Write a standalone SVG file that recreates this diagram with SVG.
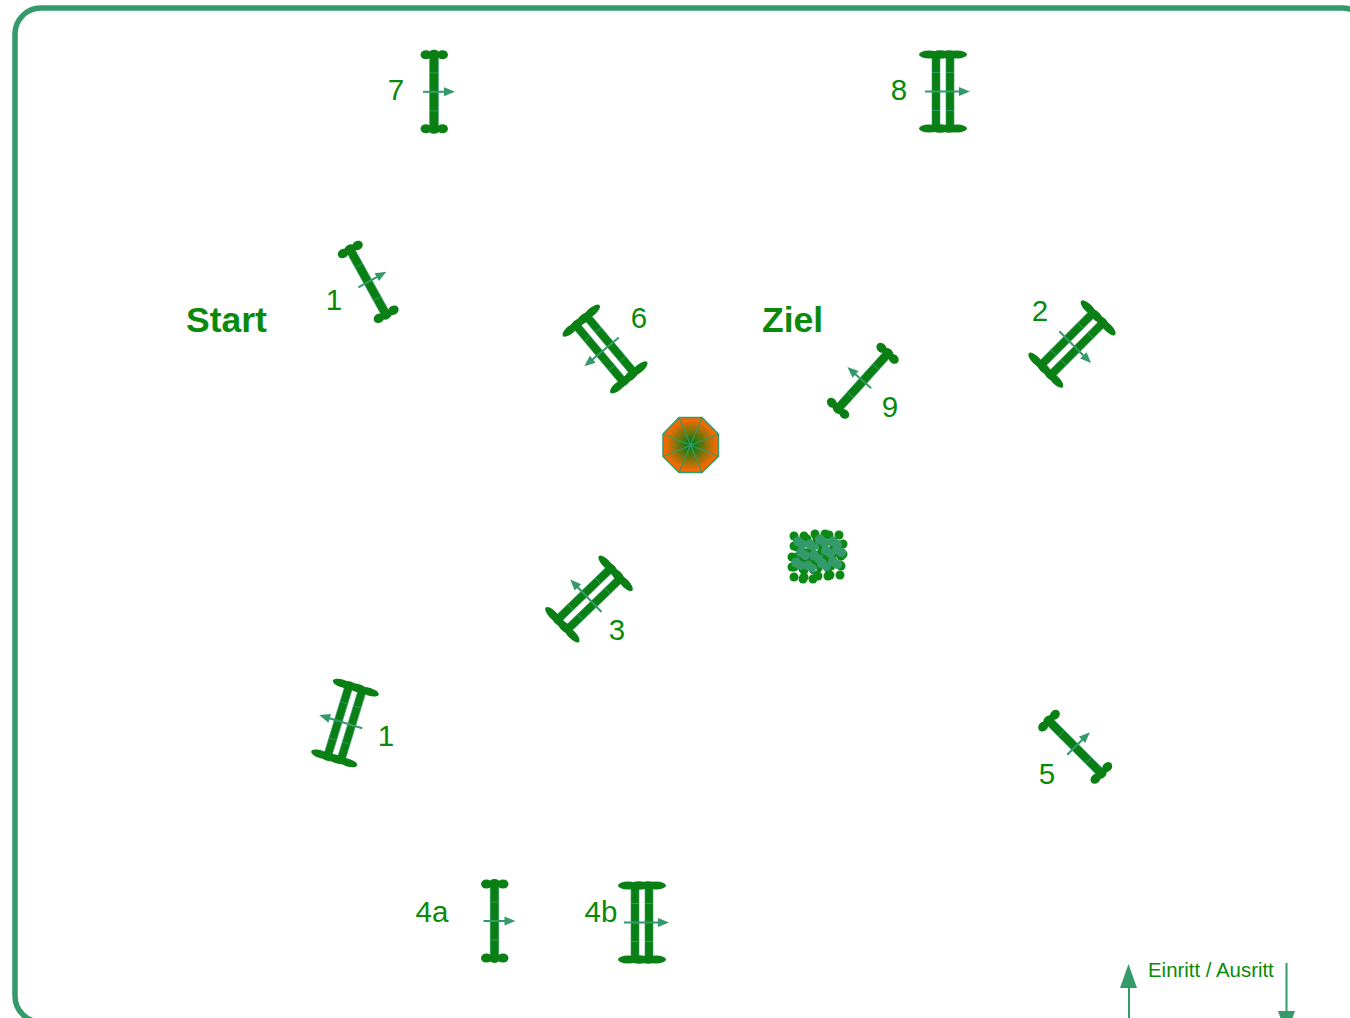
<svg xmlns="http://www.w3.org/2000/svg" xmlns:xlink="http://www.w3.org/1999/xlink" width="1350" height="1018" viewBox="0 0 1350 1018">
<style>
.t{font-family:"Liberation Sans",Arial,sans-serif;fill:#0a8a0a;font-size:29.500px}
.b{font-weight:bold;font-size:35.500px}
.s{font-size:20.400px}
.bar{fill:#0a8014}
.rail{fill:#0a8014;stroke:#359a6b;stroke-width:.6}
.tick{stroke:#359a6b;stroke-width:1;opacity:.9}
.ar{stroke:#359a6b;stroke-width:2;fill:none}
.ah{fill:#359a6b}
</style>
<defs>
<radialGradient id="og"><stop offset=".12" stop-color="#0a7f14"/><stop offset=".9" stop-color="#f06a00"/></radialGradient>
<g id="clump"><g fill="#0a8a14"><circle cx="-5" cy="-5" r="4.500"/><circle cx="5" cy="-5" r="4.500"/><circle cx="-5" cy="5" r="4.500"/><circle cx="5" cy="5" r="4.500"/></g></g>
<g id="leaf"><g fill="#359a6b"><circle cx="-2" cy="-1.500" r="5"/><circle cx="2.500" cy="1.500" r="4.600"/></g></g>
<g id="single">
<rect class="rail" x="-4.300" y="-37" width="8.600" height="74"/>
<g class="bar"><ellipse cx="-8" cy="-37" rx="5.500" ry="4.500"/><ellipse cx="0" cy="-37.300" rx="6" ry="4.700"/><ellipse cx="8.500" cy="-37" rx="5.500" ry="4.500"/><ellipse cx="-8" cy="37" rx="5.500" ry="4.500"/><ellipse cx="0" cy="37.300" rx="6" ry="4.700"/><ellipse cx="8.500" cy="37" rx="5.500" ry="4.500"/></g>
<path class="tick" d="M-4-19H4M-4 0H4M-4 19H4"/>
<path class="ar" d="M-11 0H12"/><path class="ah" d="M10-4.500L21 0L10 4.500Z"/>
</g>
<g id="double">
<rect class="rail" x="-11" y="-37" width="8" height="74"/><rect class="rail" x="3" y="-37" width="8" height="74"/>
<g class="bar"><ellipse cx="-14" cy="-37" rx="10" ry="4"/><ellipse cx="-3" cy="-37" rx="9" ry="4.300"/><ellipse cx="6" cy="-37" rx="8" ry="4.300"/><ellipse cx="14" cy="-37" rx="10" ry="4"/><ellipse cx="-14" cy="37" rx="10" ry="4"/><ellipse cx="-3" cy="37" rx="9" ry="4.300"/><ellipse cx="6" cy="37" rx="8" ry="4.300"/><ellipse cx="14" cy="37" rx="10" ry="4"/></g>
<path class="tick" d="M-11-19H-3M-11 0H-3M-11 19H-3M3-19H11M3 0H11M3 19H11"/>
<path class="ar" d="M-18 0H18"/><path class="ah" d="M16-4.500L27 0L16 4.500Z"/>
</g>
</defs>
<rect id="arena" x="15" y="8" width="1353" height="1014" rx="26" fill="none" stroke="#359a6b" stroke-width="5.500"/>
<g id="connectors">
<g id="entry"><path d="M1129 1018V988" stroke="#359a6b" stroke-width="2"/><path class="ah" d="M1120 988L1128.500 964L1137 988Z"/></g>
<g id="exit"><path d="M1286.500 963V1012" stroke="#359a6b" stroke-width="2"/><path class="ah" d="M1278 1011H1295L1286.500 1035Z"/></g>
</g>
<g id="jump7"><use xlink:href="#single" href="#single" transform="translate(434 91.800)"/><text class="t" x="396" y="100" text-anchor="middle">7</text></g>
<g id="jump8"><use xlink:href="#double" href="#double" transform="translate(943 91.500)"/><text class="t" x="899" y="100" text-anchor="middle">8</text></g>
<g id="jump1a"><use xlink:href="#single" href="#single" transform="translate(368 282) rotate(-29)"/><text class="t" x="334" y="310" text-anchor="middle">1</text></g>
<g id="jump6"><use xlink:href="#double" href="#double" transform="translate(605 349) rotate(140)"/><text class="t" x="639" y="328" text-anchor="middle">6</text></g>
<g id="jump9"><use xlink:href="#single" href="#single" transform="translate(863 381) rotate(222)"/><text class="t" x="890" y="417" text-anchor="middle">9</text></g>
<g id="jump2"><use xlink:href="#double" href="#double" transform="translate(1072 344) rotate(45)"/><text class="t" x="1040" y="321" text-anchor="middle">2</text></g>
<g id="jump3"><use xlink:href="#double" href="#double" transform="translate(589 599) rotate(226)"/><text class="t" x="617" y="640" text-anchor="middle">3</text></g>
<g id="jump1b"><use xlink:href="#double" href="#double" transform="translate(345 723) rotate(197)"/><text class="t" x="386" y="746" text-anchor="middle">1</text></g>
<g id="jump5"><use xlink:href="#single" href="#single" transform="translate(1075 747) rotate(-45)"/><text class="t" x="1047" y="784" text-anchor="middle">5</text></g>
<g id="jump4a"><use xlink:href="#single" href="#single" transform="translate(494.500 921)"/><text class="t" x="432" y="922" text-anchor="middle">4a</text></g>
<g id="jump4b"><use xlink:href="#double" href="#double" transform="translate(642 922.500)"/><text class="t" x="601" y="922" text-anchor="middle">4b</text></g>
<text id="start" class="t b" x="186" y="332">Start</text>
<text id="ziel" class="t b" x="762" y="332">Ziel</text>
<text id="entry-label" class="t s" x="1148" y="977">Einritt / Ausritt</text>
<g id="umbrella">
<path d="M679 417.500H702L718.500 434V456.500L702 472.500H679L663 456.500V434Z" fill="url(#og)" stroke="#359a6b" stroke-width="1.500"/>
<path d="M679 417.500L702 472.500M702 417.500L679 472.500M663 434L718.500 456.500M718.500 434L663 456.500" stroke="#359a6b" stroke-width="1.200" fill="none"/>
</g>
<g id="bush">
<use xlink:href="#clump" href="#clump" x="799" y="541"/><use xlink:href="#clump" href="#clump" x="812" y="544"/><use xlink:href="#clump" href="#clump" x="820" y="539"/><use xlink:href="#clump" href="#clump" x="834" y="540"/>
<use xlink:href="#clump" href="#clump" x="802" y="552"/><use xlink:href="#clump" href="#clump" x="815" y="555"/><use xlink:href="#clump" href="#clump" x="827" y="551"/><use xlink:href="#clump" href="#clump" x="838" y="549"/>
<use xlink:href="#clump" href="#clump" x="797" y="562"/><use xlink:href="#clump" href="#clump" x="809" y="565"/><use xlink:href="#clump" href="#clump" x="823" y="563"/><use xlink:href="#clump" href="#clump" x="836" y="561"/>
<use xlink:href="#clump" href="#clump" x="799" y="572"/><use xlink:href="#clump" href="#clump" x="808" y="574"/><use xlink:href="#clump" href="#clump" x="823" y="571"/><use xlink:href="#clump" href="#clump" x="835" y="570"/>
<use xlink:href="#leaf" href="#leaf" x="800" y="543"/><use xlink:href="#leaf" href="#leaf" x="812" y="546"/><use xlink:href="#leaf" href="#leaf" x="822" y="541"/><use xlink:href="#leaf" href="#leaf" x="835" y="543"/>
<use xlink:href="#leaf" href="#leaf" x="803" y="554"/><use xlink:href="#leaf" href="#leaf" x="816" y="557"/><use xlink:href="#leaf" href="#leaf" x="828" y="552"/><use xlink:href="#leaf" href="#leaf" x="839" y="551"/>
<use xlink:href="#leaf" href="#leaf" x="798" y="564"/><use xlink:href="#leaf" href="#leaf" x="810" y="567"/><use xlink:href="#leaf" href="#leaf" x="824" y="565"/><use xlink:href="#leaf" href="#leaf" x="835" y="563"/>
<g fill="#fff"><circle cx="806" cy="548" r=".8"/><circle cx="817" cy="550" r=".8"/><circle cx="829" cy="546" r=".8"/><circle cx="816" cy="570" r=".7"/></g>
</g>
</svg>
